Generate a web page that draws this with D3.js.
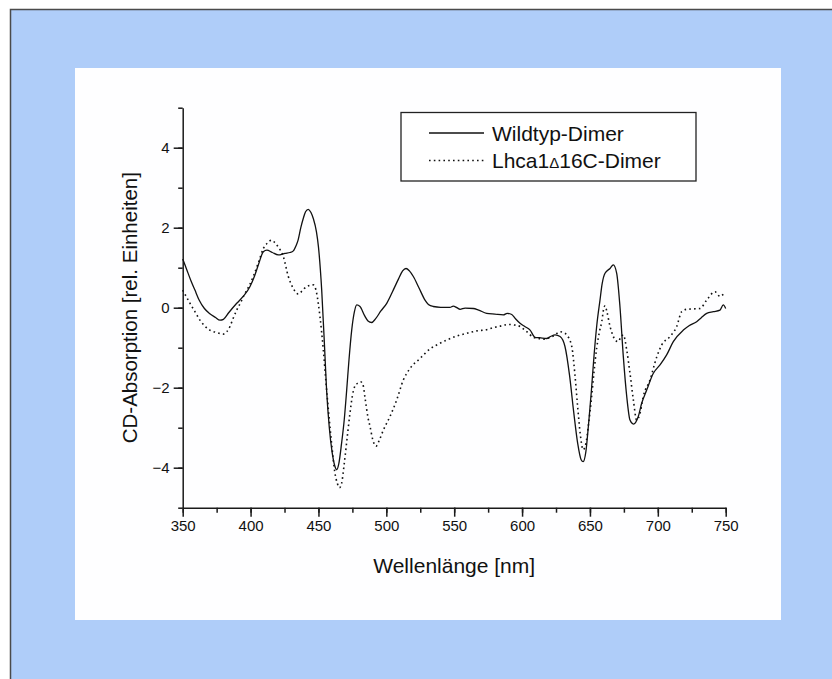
<!DOCTYPE html>
<html lang="de">
  <head>
    <meta charset="UTF-8" />
    <title>CD-Spektrum Wildtyp / Lhca1Δ16C</title>
    <script src="https://d3js.org/d3.v7.min.js"></script>
    <style>
      body {
        margin: 0;
        background: #ffffff;
      }
      svg {
        display: block;
        font-family: "Liberation Sans", Arial, sans-serif;
      }
      .axis path,
      .axis line {
        stroke: #1a1a1a;
        stroke-width: 1.5px;
      }
      .axis text {
        font-size: 15px;
        fill: #111;
      }
      .line {
        fill: none;
        stroke: #111;
      }
    </style>
  </head>
  <body>
    <svg id="chart" width="832" height="679"></svg>

    <script>
      // ---------------------------------------------------------------
      // Daten
      // ---------------------------------------------------------------
      const seriesNames = ["Wildtyp-Dimer", "Lhca1Δ16C-Dimer"];

      // Wildtyp-Dimer (durchgezogene Linie)
      const wtWave = [
        350, 353, 356, 359, 362, 366, 370, 374, 377.5, 380, 384, 389.8, 395,
        399.6, 403, 406, 409.4, 412, 416, 420.4, 425.4, 429, 431.5, 433.5, 435,
        437, 438.8, 440.5, 442.5, 444.5, 446.2, 448.5, 450, 452.4, 454.8, 456,
        458, 460, 462, 463.5, 465, 467, 469, 470.8, 472.5, 474.5, 476.5, 478.2,
        480.6, 484, 486.5, 489.2, 492, 496, 500.3, 505.1, 509, 512, 514.5, 517,
        519.9, 524, 528.5, 531, 534.6, 540, 546.9, 549.3, 552, 554.3, 558,
        564.1, 568, 573.9, 580, 586.2, 589, 592.4, 595, 598.5, 602, 605.9,
        609.5, 613, 618.1, 621, 624.3, 628, 631.6, 635, 638, 641, 643.5, 645,
        647, 649, 651, 653, 655, 657.4, 659, 661.1, 664.8, 667.2, 669.7, 672.1,
        674.6, 677.1, 679.5, 682, 685.6, 688.1, 691.8, 696.7, 701.6, 706.5,
        711.4, 718.8, 723, 728.6, 732, 736, 740.9, 745.8, 748.2, 750,
      ];
      const wtCD = [
        1.22, 0.95, 0.68, 0.44, 0.2, -0.02, -0.15, -0.24, -0.31, -0.29, -0.12,
        0.11, 0.3, 0.53, 0.8, 1.1, 1.4, 1.44, 1.38, 1.32, 1.36, 1.38, 1.42,
        1.55, 1.69, 2.0, 2.23, 2.4, 2.46, 2.38, 2.23, 1.9, 1.52, 0.44, -1.2,
        -2.06, -3.0, -3.6, -3.95, -4.05, -3.9, -3.4, -2.8, -2.06, -1.3, -0.56,
        -0.1, 0.07, 0.03, -0.2, -0.33, -0.37, -0.28, -0.08, 0.11, 0.44, 0.72,
        0.92, 0.98, 0.92, 0.78, 0.5, 0.19, 0.08, 0.03, 0.01, 0.01, 0.04, 0.0,
        -0.04, -0.01, -0.02, -0.06, -0.14, -0.16, -0.18, -0.14, -0.17, -0.27,
        -0.39, -0.47, -0.56, -0.74, -0.75, -0.77, -0.72, -0.68, -0.72, -0.97,
        -1.7, -2.6, -3.4, -3.8, -3.85, -3.6, -2.9, -2.1, -1.2, -0.45, 0.19,
        0.6, 0.86, 0.98, 1.07, 0.86, 0.03, -1.23, -2.22, -2.81, -2.91, -2.72,
        -2.39, -2.06, -1.64, -1.43, -1.18, -0.85, -0.56, -0.45, -0.35, -0.25,
        -0.14, -0.1, -0.06, 0.07, -0.02,
      ];

      // Lhca1Δ16C-Dimer (gepunktete Linie)
      const mutWave = [
        350, 355.4, 359, 362.7, 366, 370, 375, 379.9, 382.5, 384.8, 387, 389.8,
        393, 395.9, 399, 402, 406, 409.4, 412.5, 415.5, 418, 420.4, 424.1,
        427.8, 431.5, 435.2, 438, 441.3, 446.2, 448.7, 451.1, 453.6, 455.6, 458,
        460, 462, 464, 465.5, 467, 469, 471, 473, 475, 477, 479.4, 481, 482.6,
        484.5, 486.5, 488, 490, 492.4, 495, 497.8, 502.7, 507.6, 512.5, 517.4,
        524.8, 532.2, 539.5, 545, 551.8, 561.6, 566.6, 573.9, 578.8, 584, 589.9,
        594, 598.5, 603.4, 608.3, 612, 616.9, 620, 623, 628, 630.5, 632.9,
        636.6, 639, 641, 643, 645, 647, 649, 651, 653, 655, 657, 658.7, 660,
        661.1, 662.5, 664.8, 667, 668.5, 670.9, 672.5, 674.6, 677.1, 679.5, 682,
        684.4, 686.9, 689.3, 694.2, 699.2, 702.9, 709, 713.9, 717.6, 721.3, 726,
        731.1, 736, 742.1, 745.8, 749.5,
      ];
      const mutCD = [
        0.44, 0.11, -0.1, -0.31, -0.45, -0.56, -0.62, -0.66, -0.6, -0.47, -0.28,
        -0.06, 0.15, 0.36, 0.55, 0.78, 1.15, 1.48, 1.62, 1.69, 1.62, 1.52, 1.28,
        0.78, 0.48, 0.34, 0.42, 0.53, 0.57, 0.36, -0.22, -1.06, -1.89, -2.8,
        -3.5, -4.1, -4.4, -4.5, -4.4, -3.9, -3.3, -2.7, -2.2, -1.95, -1.88,
        -1.85, -1.9, -2.3, -2.75, -2.97, -3.3, -3.46, -3.3, -3.06, -2.72, -2.31,
        -1.81, -1.52, -1.27, -1.03, -0.89, -0.8, -0.71, -0.62, -0.58, -0.55,
        -0.5, -0.46, -0.42, -0.43, -0.47, -0.6, -0.74, -0.77, -0.79, -0.75,
        -0.71, -0.6, -0.62, -0.68, -0.97, -1.7, -2.5, -3.2, -3.55, -3.4, -2.9,
        -2.3, -1.6, -1.0, -0.6, -0.35, -0.05, 0.05, -0.1, -0.47, -0.7, -0.81,
        -0.85, -0.75, -0.68, -1.06, -1.64, -2.31, -2.81, -2.64, -2.22, -1.81,
        -1.23, -0.93, -0.72, -0.47, -0.1, -0.04, -0.03, -0.02, 0.19, 0.4, 0.28,
        0.4,
      ];

      const xTicks = [350, 400, 450, 500, 550, 600, 650, 700, 750];
      const yTicks = [-4, -2, 0, 2, 4];

      // ---------------------------------------------------------------
      // Rahmen und Hintergrund
      // ---------------------------------------------------------------
      const svg = d3.select("#chart");

      svg
        .append("rect")
        .attr("x", 10.5)
        .attr("y", 9.5)
        .attr("width", 840)
        .attr("height", 700)
        .attr("fill", "#afcdf9")
        .attr("stroke", "#4a4a4a")
        .attr("stroke-width", 1.5);

      svg
        .append("rect")
        .attr("x", 75)
        .attr("y", 68)
        .attr("width", 706)
        .attr("height", 552)
        .attr("fill", "#fefeff");

      // ---------------------------------------------------------------
      // Skalen
      // ---------------------------------------------------------------
      const x = d3.scaleLinear().domain([350, 750]).range([182.7, 725.7]);
      const y = d3.scaleLinear().domain([-5, 5]).range([507.7, 107.7]);

      // X-Achse: Haupt- und Nebenstriche
      svg
        .append("g")
        .attr("class", "axis")
        .attr("transform", `translate(0,${y(-5)})`)
        .call(
          d3.axisBottom(x).tickValues(d3.range(350, 751, 25)).tickSize(5).tickFormat("")
        )
        .call((g) => g.select(".domain").remove());

      svg
        .append("g")
        .attr("class", "axis")
        .attr("transform", `translate(0,${y(-5)})`)
        .call(
          d3.axisBottom(x).tickValues(xTicks).tickSize(9).tickSizeOuter(0).tickPadding(4)
        );

      // Y-Achse
      svg
        .append("g")
        .attr("class", "axis")
        .attr("transform", `translate(${x(350)},0)`)
        .call(
          d3.axisLeft(y).tickValues(d3.range(-5, 6, 1)).tickSize(4.5).tickFormat("")
        )
        .call((g) => g.select(".domain").remove());

      svg
        .append("g")
        .attr("class", "axis")
        .attr("transform", `translate(${x(350)},0)`)
        .call(
          d3.axisLeft(y).tickValues(yTicks).tickSize(9).tickSizeOuter(0).tickPadding(4)
        );

      // Achsentitel
      svg
        .append("text")
        .attr("x", (x(350) + x(750)) / 2)
        .attr("y", 573)
        .attr("text-anchor", "middle")
        .attr("font-size", 21)
        .attr("fill", "#111")
        .text("Wellenlänge [nm]");

      svg
        .append("text")
        .attr("transform", `translate(137,${y(0)}) rotate(-90)`)
        .attr("text-anchor", "middle")
        .attr("font-size", 20.5)
        .attr("fill", "#111")
        .text("CD-Absorption [rel. Einheiten]");

      // ---------------------------------------------------------------
      // Kurven
      // ---------------------------------------------------------------
      const line = d3
        .line()
        .x((d) => x(d[0]))
        .y((d) => y(d[1]))
        .curve(d3.curveMonotoneX);

      const wtData = wtWave.map((w, i) => [w, wtCD[i]]);
      const mutData = mutWave.map((w, i) => [w, mutCD[i]]);

      svg
        .append("path")
        .datum(mutData)
        .attr("class", "line")
        .attr("stroke-width", 1.6)
        .attr("stroke-dasharray", "1.6,3.2")
        .attr("d", line);

      svg
        .append("path")
        .datum(wtData)
        .attr("class", "line")
        .attr("stroke-width", 1.3)
        .attr("d", line);

      // ---------------------------------------------------------------
      // Legende
      // ---------------------------------------------------------------
      const legend = svg.append("g");
      legend
        .append("rect")
        .attr("x", 401)
        .attr("y", 112.5)
        .attr("width", 295)
        .attr("height", 68.5)
        .attr("fill", "#ffffff")
        .attr("stroke", "#222")
        .attr("stroke-width", 1.3);

      const rows = legend
        .selectAll(".row")
        .data(seriesNames)
        .join("g")
        .attr("class", "row")
        .attr("transform", (d, i) => `translate(0,${133 + i * 27.5})`);

      rows
        .append("line")
        .attr("x1", 429)
        .attr("x2", 484)
        .attr("stroke", "#111")
        .attr("stroke-width", (d, i) => (i === 0 ? 1.3 : 1.6))
        .attr("stroke-dasharray", (d, i) => (i === 0 ? null : "1.6,3.2"));

      rows
        .append("text")
        .attr("x", 492)
        .attr("y", 7.5)
        .attr("font-size", 21)
        .attr("fill", "#111")
        .each(function (d) {
          const t = d3.select(this);
          const parts = d.split("Δ");
          t.append("tspan").text(parts[0]);
          if (parts.length > 1) {
            t.append("tspan").attr("font-size", 15).text("Δ");
            t.append("tspan").text(parts[1]);
          }
        });
    </script>
  </body>
</html>
